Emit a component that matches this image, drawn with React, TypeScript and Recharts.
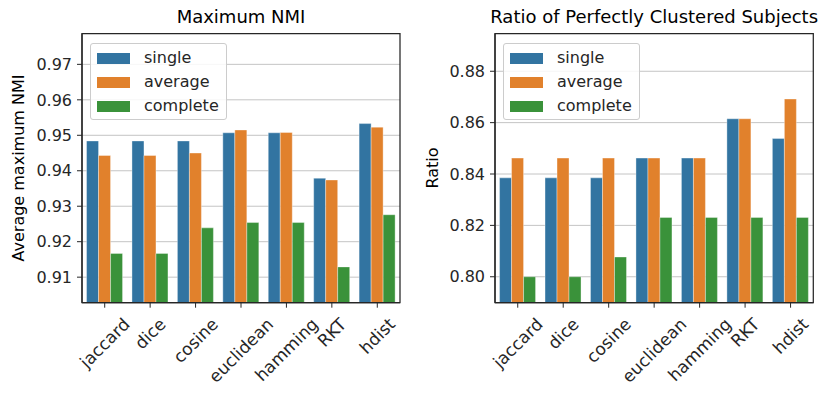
import React from "react";
import { BarChart, Bar, XAxis, YAxis, CartesianGrid, Legend, ReferenceArea } from "recharts";

const metrics = ["jaccard", "dice", "cosine", "euclidean", "hamming", "RKT", "hdist"];
const linkages = ["single", "average", "complete"];
const colors = ["#3274a1", "#e1812c", "#3a923a"];

// Maximum NMI
const nmiSingle = [0.9484, 0.9484, 0.9484, 0.9507, 0.9507, 0.9379, 0.9533];
const nmiAverage = [0.9443, 0.9443, 0.945, 0.9515, 0.9508, 0.9374, 0.9523];
const nmiComplete = [0.9167, 0.9167, 0.9239, 0.9254, 0.9254, 0.9129, 0.9276];
const nmiTicks = [0.91, 0.92, 0.93, 0.94, 0.95, 0.96, 0.97];

// Ratio of perfectly clustered subjects
const ratioSingle = [0.8385, 0.8385, 0.8385, 0.8462, 0.8462, 0.8615, 0.8538];
const ratioAverage = [0.8462, 0.8462, 0.8462, 0.8462, 0.8462, 0.8615, 0.8692];
const ratioComplete = [0.8, 0.8, 0.8077, 0.8231, 0.8231, 0.8231, 0.8231];
const ratioTicks = [0.8, 0.82, 0.84, 0.86, 0.88];

const FONT = "'DejaVu Sans', sans-serif";
const INK = "#262626";
const FS = 16;
const XFS = 17;

function buildRows(a: number[], b: number[], c: number[]) {
  return metrics.map((m, i) => ({ metric: m, single: a[i], average: b[i], complete: c[i] }));
}

let canvas: HTMLCanvasElement | null = null;
function textWidth(s: string, size: number) {
  if (!canvas) canvas = document.createElement("canvas");
  const ctx = canvas.getContext("2d");
  if (!ctx) return s.length * size * 0.6;
  ctx.font = `${size}px 'DejaVu Sans'`;
  return ctx.measureText(s).width;
}

// matplotlib-like rotated label: bbox centred on the tick, top just below the axis
function RotTick(props: any) {
  const { x, y, payload } = props;
  const w = textWidth(String(payload.value), XFS);
  const side = (w + XFS * 0.9) * Math.SQRT1_2;
  const cy = y + side / 2;
  return (
    <text
      x={x}
      y={cy}
      textAnchor="middle"
      dominantBaseline="central"
      transform={`rotate(-45, ${x}, ${cy})`}
      fontSize={XFS}
      fontFamily={FONT}
      fill={INK}
    >
      {payload.value}
    </text>
  );
}

function LegendBox() {
  return (
    <div
      style={{
        width: 135,
        height: 75,
        border: "1px solid #cccccc",
        borderRadius: 3,
        background: "rgba(255,255,255,0.85)",
        fontFamily: FONT,
        fontSize: FS,
        color: INK,
        position: "relative",
      }}
    >
      {linkages.map((l, i) => (
        <div key={l} style={{ position: "absolute", left: 6, top: 6 + i * 24, height: 16, display: "flex", alignItems: "center" }}>
          <div style={{ width: 33, height: 11, background: colors[i] }} />
          <span style={{ marginLeft: 14, lineHeight: "16px" }}>{l}</span>
        </div>
      ))}
    </div>
  );
}

interface PanelProps {
  left: number;
  title: string;
  yLabel: string;
  rows: any[];
  domain: [number, number];
  ticks: number[];
  plotLeft: number;
  plotRight: number;
  yLabelX: number;
}

function Panel({ left, title, yLabel, rows, domain, ticks, plotLeft, plotRight, yLabelX }: PanelProps) {
  const W = 415;
  const H = 404;
  const yAxisW = 70;
  const top = 33.5;
  const bottom = 302.7;
  const plotMid = (top + bottom) / 2;
  return (
    <div style={{ position: "absolute", left, top: 0, width: W, height: H }}>
      <BarChart
        width={W}
        height={H}
        data={rows}
        margin={{ top, right: W - plotRight, left: plotLeft - yAxisW, bottom: H - bottom - 90 }}
        barCategoryGap="10%"
        barGap={0}
        style={{ fontFamily: FONT }}
      >
        <CartesianGrid vertical={false} stroke="#c4c4c4" strokeWidth={1} />
        <XAxis
          dataKey="metric"
          interval={0}
          height={90}
          tickSize={5}
          tickMargin={8}
          tick={<RotTick />}
          axisLine={{ stroke: INK, strokeWidth: 1.25 }}
          tickLine={{ stroke: INK, strokeWidth: 1 }}
        />
        <YAxis
          type="number"
          domain={domain}
          ticks={ticks}
          allowDataOverflow
          width={yAxisW}
          tickSize={5}
          tickMargin={5}
          tickFormatter={(v: number) => v.toFixed(2)}
          tick={{ fill: INK, fontSize: FS, fontFamily: FONT }}
          axisLine={{ stroke: INK, strokeWidth: 1.25 }}
          tickLine={{ stroke: INK, strokeWidth: 1 }}
        />
        {linkages.map((l, i) => (
          <Bar key={l} dataKey={l} fill={colors[i]} stroke="#ffffff" strokeOpacity={0.6} strokeWidth={0.6} isAnimationActive={false} />
        ))}
        <ReferenceArea y1={domain[0]} y2={domain[1]} fill="none" fillOpacity={0} stroke={INK} strokeWidth={1.25} ifOverflow="visible" />
        <Legend
          layout="vertical"
          align="center"
          verticalAlign="middle"
          wrapperStyle={{ left: plotLeft + 8, top: 43, width: "auto" }}
          content={() => <LegendBox />}
        />
      </BarChart>
      <div
        style={{
          position: "absolute",
          left: plotLeft - 20,
          width: plotRight - plotLeft + 40,
          top: 6,
          textAlign: "center",
          fontFamily: FONT,
          fontSize: 18,
          lineHeight: "22px",
          color: "#000",
          whiteSpace: "nowrap",
        }}
      >
        {title}
      </div>
      <div
        style={{
          position: "absolute",
          left: yLabelX - 150,
          top: plotMid - 10,
          width: 300,
          textAlign: "center",
          fontFamily: FONT,
          fontSize: FS,
          lineHeight: "20px",
          color: "#000",
          transform: "rotate(-90deg)",
          whiteSpace: "nowrap",
        }}
      >
        {yLabel}
      </div>
    </div>
  );
}

export default function App() {
  return (
    <div style={{ position: "absolute", left: 0, top: 0, width: 830, height: 404, background: "#fff" }}>
      <Panel
        left={0}
        title="Maximum NMI"
        yLabel="Average maximum NMI"
        rows={buildRows(nmiSingle, nmiAverage, nmiComplete)}
        domain={[0.9028, 0.9787]}
        ticks={nmiTicks}
        plotLeft={82}
        plotRight={400}
        yLabelX={19}
      />
      <Panel
        left={415}
        title="Ratio of Perfectly Clustered Subjects"
        yLabel="Ratio"
        rows={buildRows(ratioSingle, ratioAverage, ratioComplete)}
        domain={[0.7899, 0.8947]}
        ticks={ratioTicks}
        plotLeft={80}
        plotRight={398.3}
        yLabelX={18}
      />
    </div>
  );
}
